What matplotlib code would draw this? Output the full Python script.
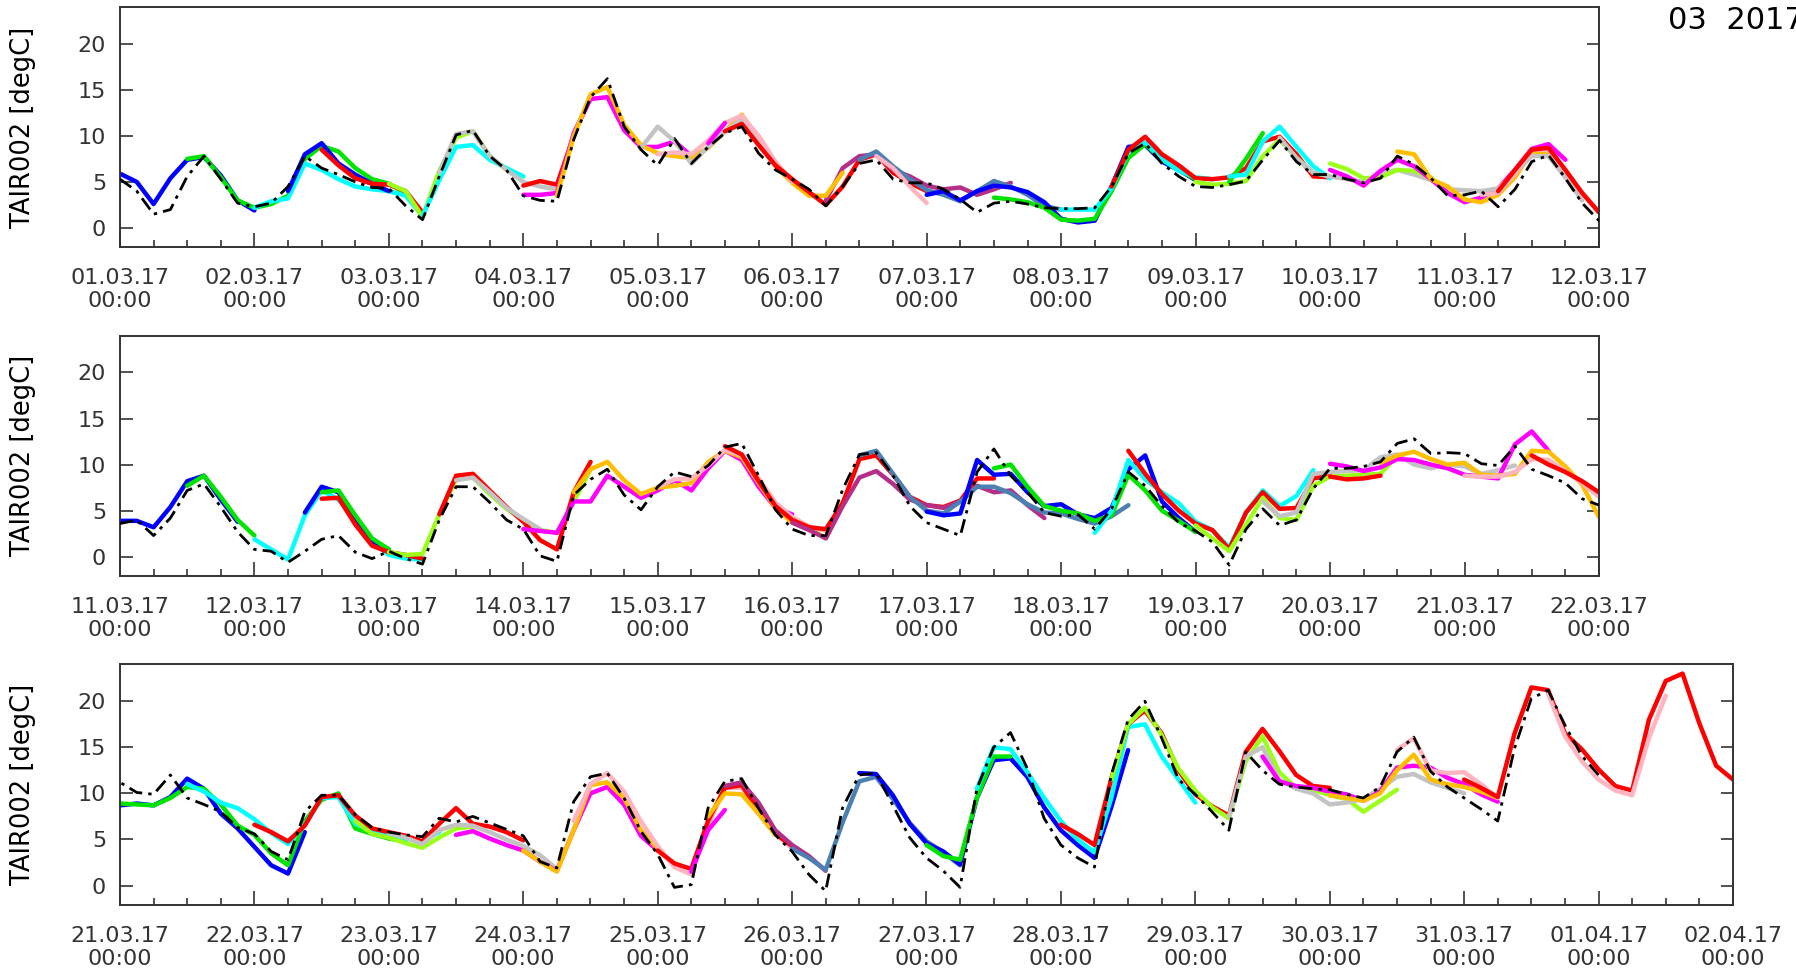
import numpy as np
import matplotlib
matplotlib.use('Agg')
import matplotlib.pyplot as plt
import matplotlib.dates as mdates

t_base = np.datetime64('2017-03-01T00:00')
step = np.timedelta64(3, 'h')

# observed TAIR002, every 3 h from 01.03.17 00:00 to 01.04.17 00:00
obs_values = [
    5.3, 4.0, 1.5, 2.0, 5.6, 7.8, 5.3, 2.7,
    2.3, 2.7, 4.5, 7.8, 6.5, 5.8, 5.0, 4.4,
    4.3, 2.4, 0.9, 5.6, 10.1, 10.6, 7.8, 6.3,
    3.5, 3.0, 2.9, 9.6, 14.2, 16.2, 11.0, 8.5,
    6.8, 9.7, 7.0, 8.8, 10.3, 11.0, 8.1, 6.3,
    5.3, 4.2, 2.4, 4.5, 7.0, 7.4, 5.3, 4.9,
    4.9, 4.2, 3.1, 1.7, 2.7, 2.9, 2.6, 2.2,
    2.1, 2.1, 2.2, 4.5, 8.1, 9.2, 7.0, 5.6,
    4.5, 4.4, 4.7, 5.1, 7.4, 9.5, 7.2, 5.8,
    5.8, 5.3, 4.9, 5.4, 7.8, 6.9, 5.4, 3.5,
    3.6, 4.0, 2.3, 4.2, 7.2, 7.9, 5.4, 2.7,
    0.8, 0.6, -0.6, 0.6, 1.9, 2.3, 0.5, -0.2,
    0.6, -0.2, -0.8, 4.0, 7.6, 7.6, 5.9, 4.0,
    3.0, 0.1, -0.5, 6.7, 8.4, 9.5, 6.7, 5.1,
    7.6, 9.2, 8.7, 9.9, 11.9, 12.3, 8.8, 5.1,
    3.0, 2.3, 2.3, 7.3, 11.1, 11.3, 8.8, 5.5,
    3.7, 3.0, 2.3, 9.2, 11.7, 8.8, 7.0, 4.8,
    4.4, 4.6, 3.0, 5.2, 9.2, 7.7, 5.5, 3.7,
    2.8, 1.6, -0.9, 3.0, 5.2, 3.4, 4.0, 7.4,
    9.6, 9.6, 9.8, 10.3, 12.3, 12.8, 11.2, 11.3,
    11.2, 10.1, 9.9, 12.0, 9.5, 8.8, 8.0, 6.3,
    5.6, 3.7, 2.8, 8.0, 9.8, 9.8, 7.7, 6.3,
    5.8, 5.5, 5.3, 7.3, 6.9, 7.5, 6.8, 6.1,
    5.4, 2.6, 1.9, 9.1, 11.8, 12.2, 9.5, 5.9,
    3.4, -0.2, 0.1, 8.4, 11.3, 11.6, 8.4, 5.5,
    3.7, 1.2, -0.6, 8.4, 12.0, 12.2, 8.7, 5.2,
    3.0, 1.6, -0.2, 10.5, 15.0, 16.6, 12.7, 7.3,
    4.4, 3.0, 2.0, 12.0, 18.0, 20.0, 16.0, 11.5,
    9.9, 8.0, 6.0, 14.5, 12.5, 11.0, 10.7, 10.5,
    10.4, 9.9, 9.5, 10.7, 14.5, 16.1, 12.4, 10.7,
    9.5, 8.3, 7.0, 14.9, 20.3, 21.2, 17.4, 14.1,
    12.0,
]

# forecast runs: first hour after 01.03.17 00:00, colour, values every 3 h
p1_start = [0, 12, 24, 30, 36, 48, 54, 57, 72, 72, 78, 93, 96, 105, 108, 126,
            126, 132, 135, 144, 156, 168, 177, 192, 198, 198, 207, 216, 216,
            228, 240, 243, 246]
p1_color = ['blue', 'green', 'cyan', 'blue', 'red', 'chartreuse', 'cyan',
            'silver', 'red', 'magenta', 'gold', 'silver', 'pink', 'magenta',
            'red', 'purple', 'gold', 'steelblue', 'pink', 'blue', 'green',
            'cyan', 'red', 'chartreuse', 'green', 'cyan', 'silver',
            'chartreuse', 'magenta', 'gold', 'silver', 'pink', 'red']
p1_values = [
    [5.9, 5.0, 2.6, 5.4, 7.4, 7.7, 5.7, 3.0, 1.9],
    [7.5, 7.8, 5.5, 3.0, 2.2, 2.6, 3.5, 7.5, 8.9, 8.3, 6.5, 5.3, 4.8, 3.8, 1.5],
    [2.2, 2.9, 3.2, 7.0, 6.3, 5.3, 4.5, 4.2, 4.0, 3.5, 1.3],
    [4.0, 8.0, 9.2, 7.0, 5.8, 4.8, 4.0],
    [8.5, 6.8, 5.4, 4.8, 4.7, 4.0, 1.7],
    [4.8, 4.0, 1.2, 6.2, 9.8, 10.5, 7.8, 6.3, 5.6],
    [1.3, 5.2, 8.8, 9.0, 7.4, 6.5, 5.6],
    [6.0, 10.2, 10.5, 7.8, 6.3, 5.0, 4.5, 4.2],
    [4.6, 5.1, 4.7, 10.0],
    [3.6, 3.6, 3.8, 10.3, 14.0, 14.2, 10.6, 8.8, 8.8, 9.4, 7.8],
    [3.5, 10.0, 14.5, 15.3, 11.2, 9.0, 8.1, 7.8, 7.6, 8.7, 10.5, 12.3, 9.6, 6.7, 4.9, 3.5, 3.5],
    [8.7, 11.0, 9.4, 7.0, 8.8, 10.5, 11.8, 9.5, 6.8],
    [8.0, 8.2, 8.0, 9.5, 11.4, 12.2, 10.0, 7.2, 5.0],
    [9.2, 11.4],
    [10.5, 11.3, 9.0, 6.8, 5.3, 3.9, 2.5, 4.5, 7.4, 8.0, 6.0, 4.9, 4.0],
    [3.0, 6.5, 7.8, 8.0, 6.3, 5.6, 4.6, 4.2, 4.4, 3.6, 4.2, 4.9],
    [3.5, 6.0],
    [7.4, 8.3, 6.7, 5.3, 4.1, 3.6, 2.9, 4.0, 5.1, 4.5, 3.6, 2.4, 2.0],
    [7.8, 6.5, 4.5, 2.7],
    [3.6, 4.0, 3.0, 4.0, 4.6, 4.4, 3.9, 2.8, 1.0, 0.6, 0.8, 4.5, 8.8, 9.0, 7.2, 6.3, 5.2],
    [3.3, 3.1, 2.8, 2.2, 0.9, 0.8, 1.0, 4.0, 7.6, 9.1, 7.4, 6.3, 5.3],
    [2.0, 2.0, 2.0, 4.3, 8.3, 9.3, 7.5, 6.2, 5.5, 5.3],
    [4.5, 8.5, 9.9, 8.0, 6.8, 5.4, 5.3, 5.5, 6.5, 9.4, 9.9, 8.0, 5.6, 5.5],
    [5.0, 4.7, 4.8, 5.1, 7.8, 9.6, 7.6, 6.0, 5.6],
    [5.0, 7.5, 10.3],
    [5.6, 5.8, 9.4, 11.0, 8.8, 6.7, 5.4],
    [9.8, 7.6, 6.0, 5.6, 5.3, 5.0, 6.0, 6.3, 5.8, 5.2, 4.2, 4.1],
    [7.0, 6.4, 5.4, 5.5, 6.3, 6.2, 5.5, 3.8, 3.3],
    [6.3, 5.6, 4.6, 6.2, 7.4, 6.7, 5.3, 3.8, 2.8, 3.3, 4.3, 6.3, 8.6, 9.1, 7.4],
    [8.3, 8.0, 5.3, 4.5, 3.1, 2.8, 3.6, 5.5, 8.3, 8.2],
    [4.1, 4.0, 4.3, 6.0, 7.8, 7.8, 5.5, 3.0],
    [3.6, 3.8, 5.9, 8.5, 8.5, 6.3, 3.8, 1.7],
    [4.0, 6.3, 8.5, 8.7, 6.3, 3.8, 1.7],
]

p2_start = [240, 252, 264, 273, 276, 276, 288, 297, 300, 312, 321, 336, 348,
            360, 372, 384, 396, 414, 420, 432, 444, 456, 456, 465, 480, 492]
p2_color = ['blue', 'green', 'cyan', 'blue', 'green', 'red', 'chartreuse',
            'red', 'silver', 'magenta', 'gold', 'pink', 'red', 'purple',
            'steelblue', 'blue', 'green', 'cyan', 'red', 'chartreuse',
            'silver', 'red', 'magenta', 'gold', 'pink', 'red']
p2_values = [
    [3.9, 3.9, 3.2, 5.4, 8.2, 8.8, 6.2, 3.8],
    [7.7, 8.8, 6.5, 4.0, 2.3],
    [1.9, 0.8, -0.3, 4.5, 7.2, 6.2, 4.0, 1.6, 0.2, -0.2, -0.3],
    [4.8, 7.6, 7.0, 4.0, 1.7, 0.8],
    [7.0, 7.2, 4.5, 2.0, 0.8],
    [6.3, 6.4, 3.5, 1.2, 0.5, 0.2, -0.2],
    [0.5, 0.2, 0.3, 4.6, 8.4, 8.6, 6.8, 5.2, 4.0, 2.9, 2.6, 6.0, 9.5],
    [4.6, 8.8, 9.0, 7.2, 5.4, 3.8, 1.8, 0.8, 7.0, 10.3],
    [8.3, 8.6, 7.0, 5.3, 4.1, 3.0],
    [3.0, 2.8, 2.6, 6.0, 6.0, 8.8, 7.6, 6.4, 7.2, 8.3, 7.2, 9.6, 11.5, 10.5, 7.6, 5.3, 4.6],
    [7.0, 9.5, 10.3, 8.3, 6.8, 7.5, 7.7, 8.0, 10.3, 11.5, 10.8, 8.0, 5.3, 3.7, 3.1, 2.0, 6.0],
    [7.6, 8.4, 8.5, 9.9, 11.6, 11.0, 8.5, 5.9, 4.3, 3.3, 2.8],
    [12.0, 11.1, 8.2, 5.5, 4.0, 3.2, 3.0, 5.8, 10.6, 11.0, 8.9, 6.5, 5.6, 5.4, 6.1, 8.5, 8.5],
    [3.7, 2.9, 2.0, 5.5, 8.6, 9.3, 7.9, 6.2, 5.6, 5.3, 6.0, 7.7, 7.0, 7.2, 5.6, 4.2],
    [11.0, 11.5, 9.0, 6.5, 5.0, 4.7, 6.0, 7.6, 7.6, 6.9, 5.7, 4.8, 4.7, 4.1, 3.6, 4.4, 5.6],
    [4.9, 4.5, 4.7, 10.5, 8.9, 9.0, 7.0, 5.5, 5.7, 4.6, 4.2, 5.3, 9.5, 11.0, 6.0, 4.2, 2.7],
    [9.6, 10.0, 7.6, 5.5, 5.0, 4.7, 3.9, 4.5, 8.9, 7.2, 5.0, 3.9, 2.7],
    [2.6, 5.0, 10.5, 8.4, 7.0, 5.8, 3.8, 2.9, 1.0, 4.8, 7.2, 5.5, 6.6, 9.4],
    [11.5, 9.0, 6.8, 5.0, 3.6, 2.9, 0.8, 4.8, 7.0, 5.2, 5.3, 8.5, 8.8],
    [3.4, 2.0, 0.6, 3.5, 6.4, 4.2, 4.0, 7.7, 8.7, 8.8, 8.9, 9.0, 11.0],
    [6.0, 4.4, 4.8, 9.0, 9.2, 9.3, 9.4, 10.8, 11.1, 10.0, 9.6, 10.0, 9.8, 9.0, 9.4, 9.9],
    [8.7, 8.4, 8.5, 8.8],
    [10.1, 9.8, 9.3, 9.7, 10.6, 10.5, 10.0, 9.6, 8.9, 8.7, 8.5, 12.2, 13.6, 11.5],
    [10.2, 11.0, 11.4, 10.6, 10.0, 10.2, 8.9, 8.8, 9.0, 11.5, 11.4, 9.8, 7.8, 4.3],
    [8.8, 8.7, 8.7, 9.2, 10.6, 10.5, 9.3, 8.0, 6.5],
    [11.0, 10.0, 9.2, 8.2, 7.0, 6.3],
]

p3_start = [480, 480, 492, 504, 522, 528, 540, 552, 561, 576, 582, 585, 588,
            600, 612, 624, 633, 648, 657, 678, 684, 696, 708, 720, 735]
p3_color = ['blue', 'green', 'cyan', 'red', 'chartreuse', 'silver', 'magenta',
            'gold', 'pink', 'red', 'magenta', 'gold', 'purple', 'steelblue',
            'blue', 'green', 'cyan', 'red', 'chartreuse', 'silver', 'magenta',
            'gold', 'pink', 'red', 'pink']
p3_values = [
    [8.7, 8.9, 8.7, 9.6, 11.6, 10.5, 7.8, 6.2, 4.2, 2.2, 1.3, 5.8],
    [8.9, 8.8, 8.7, 9.5, 10.7, 10.5, 8.8, 6.5, 5.5, 3.5, 2.2, 7.0, 9.3, 10.0, 6.2, 5.6, 5.1, 4.8],
    [11.0, 10.2, 9.0, 8.4, 7.2, 5.7, 4.5, 6.6, 9.5, 9.6, 6.7, 5.9, 5.5, 5.1, 4.8, 5.8],
    [6.6, 5.8, 4.8, 6.5, 9.6, 9.8, 7.6, 6.2, 5.8, 5.4, 4.8, 6.7, 8.4, 6.7, 6.4, 5.8, 4.9],
    [7.0, 5.6, 5.2, 4.6, 4.1, 5.2, 6.2, 6.4],
    [5.7, 5.2, 4.5, 6.0, 6.6, 6.5, 5.8, 5.0, 4.3, 3.3, 1.8],
    [5.5, 5.9, 5.1, 4.4, 3.8, 2.6, 1.6, 6.0, 10.0, 10.7, 8.8, 5.4, 3.8],
    [3.8, 2.6, 1.5, 6.0, 10.9, 11.2, 9.5, 6.0, 4.0],
    [7.0, 11.0, 12.2, 10.2, 7.0, 4.3, 2.0, 1.2, 6.5, 10.6, 10.6, 8.0, 5.8, 4.0],
    [3.8, 2.4, 1.8, 7.0, 10.6, 10.9, 8.2, 5.6, 4.3],
    [1.5, 6.0, 8.2],
    [7.5, 10.0, 9.9, 7.8, 5.5],
    [10.8, 11.2, 9.0, 6.0, 4.4, 3.2, 1.6],
    [4.0, 3.0, 1.7, 6.8, 11.3, 11.8, 9.4, 6.8, 4.8, 3.6, 2.2],
    [12.2, 12.1, 9.8, 6.7, 4.6, 3.7, 2.3, 9.5, 13.6, 13.8, 11.8, 8.5, 6.0, 4.4, 3.0, 8.5, 14.7],
    [4.4, 3.2, 2.8, 9.5, 14.0, 14.0],
    [10.5, 15.0, 14.8, 12.3, 9.5, 7.0, 5.0, 3.6, 9.5, 17.2, 17.5, 14.0, 11.5, 9.0],
    [6.6, 5.6, 4.4, 11.6, 17.5, 19.0, 16.5, 12.5, 9.9, 8.6, 7.6, 14.5, 17.0, 14.6, 12.0, 10.8, 10.6],
    [11.5, 17.5, 19.3, 16.3, 12.7, 10.3, 8.5, 7.3, 13.5, 16.2, 12.3, 10.6, 10.4, 9.8, 9.4, 8.0, 9.2, 10.4],
    [7.5, 14.0, 15.0, 11.5, 10.5, 10.0, 8.8, 9.0, 9.4, 10.5, 11.8, 12.1, 11.2, 10.6, 10.0],
    [14.0, 11.3, 10.8, 10.6, 10.2, 9.9, 9.2, 10.2, 12.8, 13.0, 12.8, 11.7, 11.0, 9.9, 9.1],
    [9.8, 9.5, 9.2, 10.0, 12.5, 14.2, 11.5, 11.0, 10.7, 10.2, 9.5],
    [14.7, 16.0, 12.5, 12.2, 12.3, 11.0, 9.5],
    [11.5, 10.6, 9.6, 16.5, 21.5, 21.2, 16.5, 14.8, 12.6, 10.8, 10.3, 18.0, 22.2, 23.0, 17.6, 13.0, 11.5],
    [20.8, 16.2, 13.5, 11.5, 10.3, 9.8, 16.0, 20.6],
]

panel_from = ['2017-03-01', '2017-03-11', '2017-03-21']
panel_to = ['2017-03-12', '2017-03-22', '2017-04-02']

colours = {'blue': '#0000ff', 'green': '#00e400', 'cyan': '#00ffff',
           'red': '#ff0000', 'chartreuse': '#9bff1a', 'silver': '#c3c3c3',
           'magenta': '#ff00ff', 'gold': '#ffbf00', 'pink': '#ffb4c0',
           'purple': '#b52f88', 'steelblue': '#4a80b2'}


def times(h0, n):
    return t_base + np.timedelta64(int(h0), 'h') + step * np.arange(n)


fig = plt.figure(figsize=(17.96, 9.75), dpi=100)
boxes = [[0.0668, 0.7463, 0.8235, 0.2467],
         [0.0668, 0.4091, 0.8235, 0.2467],
         [0.0668, 0.0719, 0.8981, 0.2467]]
runs = [(p1_start, p1_color, p1_values),
        (p2_start, p2_color, p2_values),
        (p3_start, p3_color, p3_values)]
obs_t = times(0, len(obs_values))

for box, (starts, cols, vals), x0, x1 in zip(boxes, runs, panel_from, panel_to):
    ax = fig.add_axes(box)
    for s, c, v in zip(starts, cols, vals):
        ax.plot(times(s, len(v)), v, color=colours[c], lw=3.2,
                solid_capstyle='round', solid_joinstyle='round', zorder=2)
    ax.plot(obs_t, obs_values, color='black', lw=2.0,
            ls=(0, (5, 2.2, 1.2, 2.2)), zorder=3)
    ax.set_xlim(np.datetime64(x0), np.datetime64(x1))
    ax.set_ylim(-2.1, 24)
    ax.set_yticks([0, 5, 10, 15, 20])
    ax.xaxis.set_major_locator(mdates.DayLocator())
    ax.xaxis.set_minor_locator(mdates.HourLocator(byhour=[6, 12, 18]))
    ax.xaxis.set_major_formatter(mdates.DateFormatter('%d.%m.%y\n%H:%M'))
    ax.tick_params(axis='x', which='major', direction='in', length=10,
                   width=1.2, pad=15, labelsize=16, labelcolor='#333333',
                   color='#333333')
    ax.tick_params(axis='x', which='minor', direction='in', length=5,
                   width=1.2, color='#333333')
    ax.tick_params(axis='y', direction='in', length=9, width=1.2, pad=10,
                   labelsize=16, labelcolor='#333333', color='#333333',
                   right=True)
    for sp in ax.spines.values():
        sp.set_color('#333333')
        sp.set_linewidth(1.4)
    fig.text(0.013, box[1] + box[3] / 2, 'TAIR002 [degC]', rotation=90,
             ha='center', va='center', fontsize=18.5)

fig.text(0.9287, 0.979, '03  2017', fontsize=22, va='center', ha='left')

plt.savefig('out.png', dpi=100)
